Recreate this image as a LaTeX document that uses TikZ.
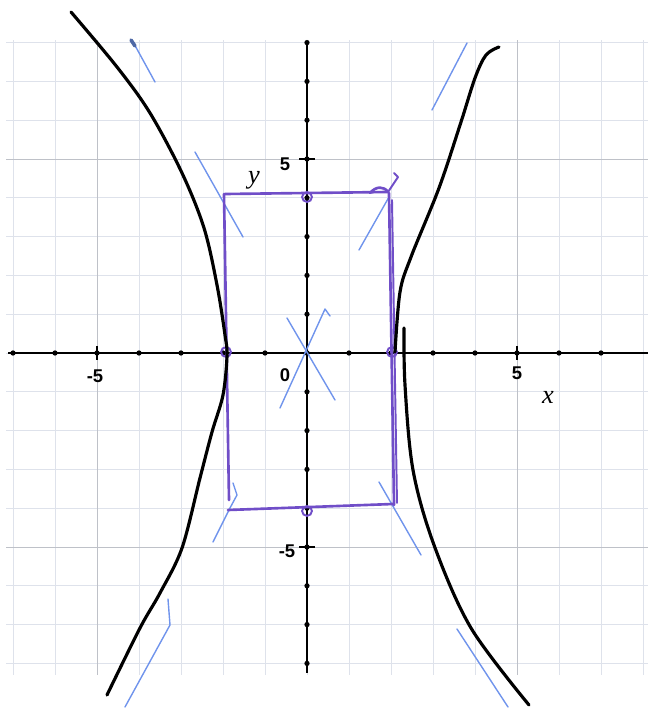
\documentclass[tikz,border=0pt]{standalone}
\usepackage{fontspec}
\setmainfont{Liberation Serif}
\newfontfamily\lsans{Liberation Sans}
\definecolor{gridc}{RGB}{222,226,235}
\definecolor{gridd}{RGB}{190,193,200}
\definecolor{purp}{RGB}{112,78,200}
\definecolor{asym}{RGB}{112,148,236}
\tikzset{
  gridline/.style={gridc, line width=0.45pt},
  gridmain/.style={gridd, line width=0.55pt},
  axisline/.style={black, line width=1.6pt},
  curve/.style={black, line width=1.8pt, line cap=round, line join=round},
  boxline/.style={purp, line width=1.5pt, line cap=round, line join=round},
  asy/.style={asym, line width=0.8pt, line cap=round, line join=round},
  numlab/.style={font=\lsans\bfseries\fontsize{10.5}{12}\selectfont, inner sep=0pt},
  varlab/.style={font=\itshape\fontsize{15}{17}\selectfont, inner sep=0pt},
  vcirc/.style={purp, line width=1.1pt}
}
\begin{document}
\begin{tikzpicture}[x=0.02cm, y=-0.02cm]
\useasboundingbox (0,0) rectangle (648,710);
% grid
\foreach \i in {-7,...,8} \draw[gridline] ({307+42*\i},40) -- ({307+42*\i},675);
\foreach \j in {-8,...,8} \draw[gridline] (6,{353-38.8*\j}) -- (648,{353-38.8*\j});
\foreach \i in {-5,5} \draw[gridmain] ({307+42*\i},40) -- ({307+42*\i},675);
\foreach \j in {-5,5} \draw[gridmain] (6,{353-38.8*\j}) -- (648,{353-38.8*\j});
% axes
\draw[axisline] (8,353) -- (648,353);
\draw[axisline] (307,43) -- (307,673);
\foreach \i in {-7,...,7} \fill ({307+42*\i},353) circle (1.5pt);
\foreach \j in {-8,...,8} \fill (307,{353-38.8*\j}) circle (1.5pt);
\foreach \i in {-5,5} \draw[black, line width=1.3pt] ({307+42*\i},346) -- ({307+42*\i},360);
\foreach \j in {-5,5} \draw[black, line width=1.3pt] (299,{353-38.8*\j}) -- (315,{353-38.8*\j});
% labels
\node[numlab] (ly5) at (285,164) {5};
\node[numlab] (lym5) at (287,551) {-5};
\node[numlab] (lxm5) at (95,376) {-5};
\node[numlab] (lx0) at (285,375) {0};
\node[numlab] (lx5) at (517,373) {5};
\node[varlab] (lx) at (548,397) {x};
\node[varlab] (ly) at (254,180) {y};
% asymptote strokes
\draw[asy] (132,40) -- (155,82);
\draw[asym!70!black, line width=2pt, line cap=round] (131,40) -- (135,46);
\draw[asy] (195,152) -- (243,237);
\draw[asy] (359,250) -- (389,197);
\draw[asy] (432,110) -- (467,43);
\draw[asy] (287,318) -- (335,400);
\draw[asy] (280,408) -- (325,309) -- (330,316);
\draw[asy] (213,542) -- (230,508) -- (237,495) -- (233,483);
\draw[asy] (379,482) -- (421,555);
\draw[asy] (125,707) -- (170,625) -- (168,599);
\draw[asy] (457,629) -- (508,707);
% rectangle
\draw[boxline] (225,194) -- (388,192);
\draw[boxline] (370,193) .. controls (376,186) and (384,186) .. (388,192);
\draw[boxline, line width=1.1pt] (388,192) -- (398,177) -- (394,173);
\draw[boxline] (224,194) -- (229,500);
\draw[boxline] (228,510) -- (393,504);
\draw[boxline] (389,193) -- (394,505);
\draw[boxline, line width=1.1pt] (392,200) -- (397,503);
\draw[vcirc] (307,197) circle (2.8pt);
\draw[vcirc] (307,511) circle (2.8pt);
\draw[vcirc] (226,352) circle (2.8pt);
\draw[vcirc] (392,352) circle (2.8pt);
% hyperbola
\draw[curve] plot[smooth, tension=0.55] coordinates {(71,12) (117,67) (150,113) (182,173) (204,228) (217,285) (225,335) (227,356) (223,395) (212,432) (200,478) (182,548) (160,593) (140,628) (107,695)};
\draw[curve] plot[smooth, tension=0.55] coordinates {(499,47) (486,55) (475,78) (461,122) (439,188) (411,257) (400,292) (395,352)};
\draw[curve] plot[smooth, tension=0.55] coordinates {(404,328) (405,385) (413,470) (434,545) (471,628) (529,705)};
\end{tikzpicture}
\end{document}
